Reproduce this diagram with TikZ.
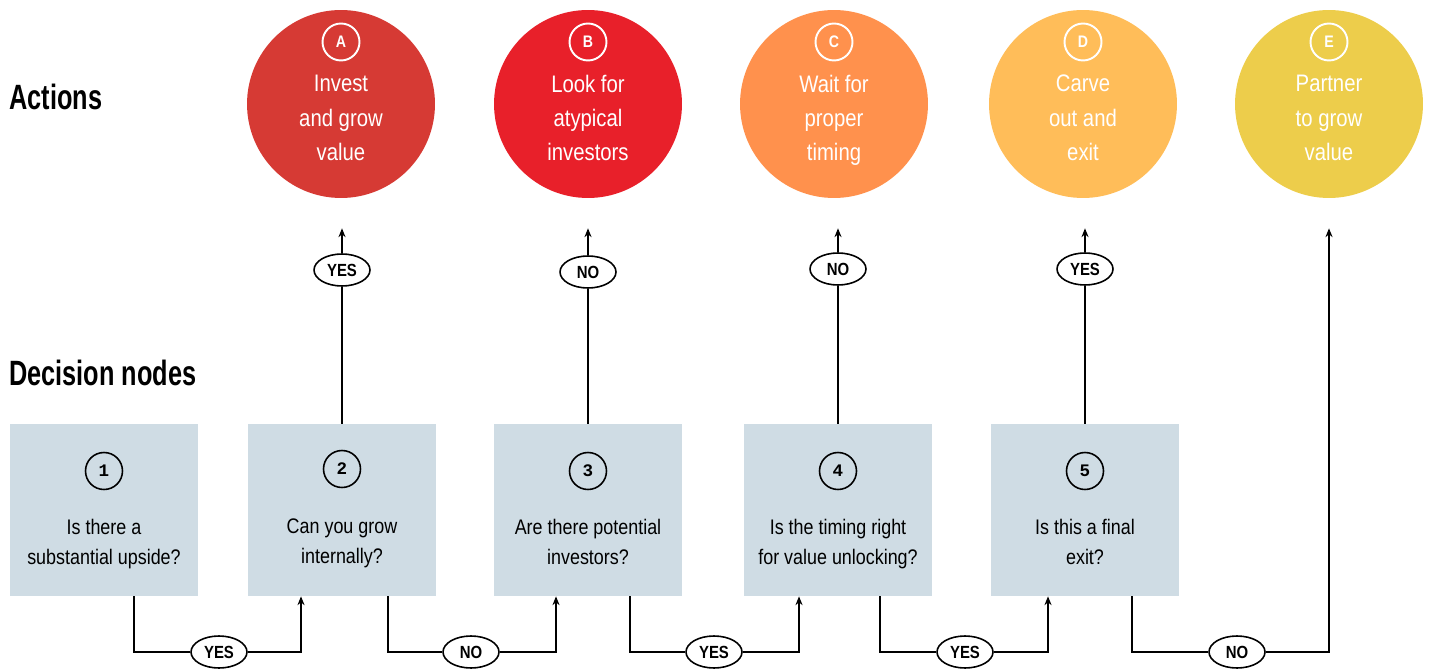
\documentclass[tikz,border=0pt]{standalone}
\usepackage{fontspec}
\setmainfont{Liberation Sans}[FakeStretch=0.85]
\newfontfamily\headfont{Liberation Sans}[FakeStretch=0.72]
\newfontfamily\numfont{Liberation Mono}
\usetikzlibrary{positioning,calc,arrows.meta,shapes.geometric}

\definecolor{colA}{HTML}{D63A34}
\definecolor{colB}{HTML}{E8202A}
\definecolor{colC}{HTML}{FF914D}
\definecolor{colD}{HTML}{FFBD59}
\definecolor{colE}{HTML}{EDCD4B}
\definecolor{boxblue}{HTML}{CFDCE4}

\begin{document}
\begin{tikzpicture}[x=0.02cm,y=-0.02cm,
   action/.style   = {circle, minimum size=3.76cm, inner sep=0pt},
   tag/.style      = {circle, draw=white, line width=1.1pt, minimum size=0.74cm,
                      inner sep=0pt, text=white, font=\bfseries\fontsize{9.5}{10}\selectfont},
   acttext/.style  = {text=white, align=center, font=\fontsize{13.6}{19.6}\selectfont,
                      execute at begin node=\strut, execute at end node=\strut},
   decision/.style = {fill=boxblue, minimum width=3.78cm, minimum height=3.44cm, inner sep=0pt},
   num/.style      = {circle, draw, line width=0.9pt, minimum size=0.74cm, inner sep=0pt,
                      font=\numfont\bfseries\fontsize{10}{10}\selectfont},
   question/.style = {align=center, font=\fontsize{12}{17}\selectfont,
                      execute at begin node=\strut, execute at end node=\strut},
   answer/.style   = {ellipse, draw, line width=0.9pt, fill=white, minimum width=1.12cm,
                      minimum height=0.64cm, inner sep=0pt, font=\bfseries\fontsize{10}{10}\selectfont},
   flow/.style     = {line width=0.9pt},
   arr/.style      = {flow, -{Stealth[length=5pt,width=4pt]}},
   heading/.style  = {anchor=west, inner sep=0pt, font=\headfont\bfseries\fontsize{20}{22}\selectfont}
]
   \useasboundingbox (0,0) rectangle (1430,672);

   % row headings
   \node[heading] (hact) at (9,97)  {Actions};
   \node[heading] (hdec) at (9,373) {Decision nodes};

   % actions
   \node[action, fill=colA] (actA) at (341,104)  {};
   \node[action, fill=colB] (actB) at (588,104)  {};
   \node[action, fill=colC] (actC) at (834,104)  {};
   \node[action, fill=colD] (actD) at (1083,104) {};
   \node[action, fill=colE] (actE) at (1329,104) {};

   \node[tag] (tagA) at (341,42)  {A};
   \node[tag] (tagB) at (588,42)  {B};
   \node[tag] (tagC) at (834,42)  {C};
   \node[tag] (tagD) at (1083,42) {D};
   \node[tag] (tagE) at (1329,42) {E};

   \node[acttext] (txtA) at (341,123)  {Invest\\and grow\\value};
   \node[acttext] (txtB) at (588,123)  {Look for\\atypical\\investors};
   \node[acttext] (txtC) at (834,123)  {Wait for\\proper\\timing};
   \node[acttext] (txtD) at (1083,123) {Carve\\out and\\exit};
   \node[acttext] (txtE) at (1329,123) {Partner\\to grow\\value};

   % arrow ends under the actions
   \coordinate[below=0.6cm of actA] (inA);
   \coordinate[below=0.6cm of actB] (inB);
   \coordinate[below=0.6cm of actC] (inC);
   \coordinate[below=0.6cm of actD] (inD);
   \coordinate[below=0.6cm of actE] (inE);

   % decision nodes
   \node[decision] (box1) at (104,510)  {};
   \node[decision] (box2) at (342,510)  {};
   \node[decision] (box3) at (588,510)  {};
   \node[decision] (box4) at (838,510)  {};
   \node[decision] (box5) at (1085,510) {};

   \node[num] (num1) at (104,471)  {1};
   \node[num] (num2) at (342,469)  {2};
   \node[num] (num3) at (588,471)  {3};
   \node[num] (num4) at (838,471)  {4};
   \node[num] (num5) at (1085,471) {5};

   \node[question] (q1) at (104,546)  {Is there a\\substantial upside?};
   \node[question] (q2) at (342,546)  {Can you grow\\internally?};
   \node[question] (q3) at (588,546)  {Are there potential\\investors?};
   \node[question] (q4) at (838,546)  {Is the timing right\\for value unlocking?};
   \node[question] (q5) at (1085,546) {Is this a final\\exit?};

   % up to the actions
   \node[answer] (up2) at (342,270)  {YES};
   \node[answer] (up3) at (588,272)  {NO};
   \node[answer] (up4) at (838,269)  {NO};
   \node[answer] (up5) at (1085,269) {YES};

   \draw[flow] (box2) -- (up2);
   \draw[arr]  (up2) -- (up2 |- inA);
   \draw[flow] (box3) -- (up3);
   \draw[arr]  (up3) -- (up3 |- inB);
   \draw[flow] (box4) -- (up4);
   \draw[arr]  (up4) -- (up4 |- inC);
   \draw[flow] (box5) -- (up5);
   \draw[arr]  (up5) -- (up5 |- inD);

   % along the bottom
   \node[answer] (lo1) at (219,652)  {YES};
   \node[answer] (lo2) at (471,652)  {NO};
   \node[answer] (lo3) at (714,652)  {YES};
   \node[answer] (lo4) at (965,652)  {YES};
   \node[answer] (lo5) at (1237,652) {NO};

   \draw[flow] ([xshift=0.6cm]box1.south)  |- (lo1);
   \draw[arr]  (lo1) -| ([xshift=-0.82cm]box2.south);
   \draw[flow] ([xshift=0.92cm]box2.south) |- (lo2);
   \draw[arr]  (lo2) -| ([xshift=-0.64cm]box3.south);
   \draw[flow] ([xshift=0.84cm]box3.south) |- (lo3);
   \draw[arr]  (lo3) -| ([xshift=-0.78cm]box4.south);
   \draw[flow] ([xshift=0.84cm]box4.south) |- (lo4);
   \draw[arr]  (lo4) -| ([xshift=-0.74cm]box5.south);
   \draw[flow] ([xshift=0.94cm]box5.south) |- (lo5);
   \draw[arr]  (lo5) -| (inE);
\end{tikzpicture}
\end{document}
